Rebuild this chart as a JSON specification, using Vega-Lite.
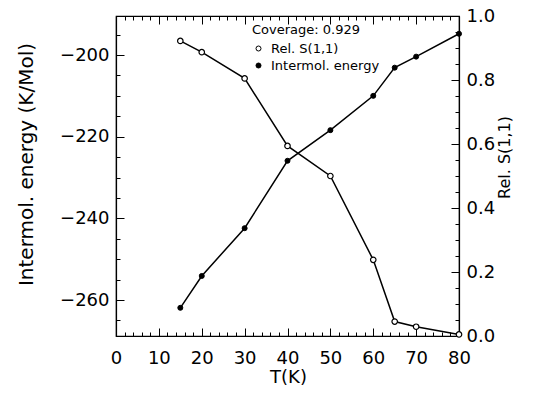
{
  "$schema": "https://vega.github.io/schema/vega-lite/v6.json",
  "width": 343,
  "height": 320,
  "autosize": "none",
  "padding": {"left": 116, "top": 16, "right": 79, "bottom": 66},
  "background": "white",
  "config": {
    "font": "DejaVu Sans",
    "view": {"stroke": "black", "strokeWidth": 1.2},
    "axis": {
      "grid": false,
      "domainColor": "black",
      "domainWidth": 1.2,
      "tickColor": "black",
      "tickWidth": 1,
      "labelColor": "black",
      "labelFont": "DejaVu Sans",
      "labelFontSize": 18,
      "titleColor": "black",
      "titleFont": "DejaVu Sans",
      "titleFontWeight": "normal"
    },
    "legend": {
      "orient": "none",
      "legendX": 136,
      "legendY": 8,
      "titleFontSize": 13,
      "titleFontWeight": "normal",
      "titleColor": "black",
      "titleFont": "DejaVu Sans",
      "titlePadding": 5,
      "labelFontSize": 13,
      "labelFont": "DejaVu Sans",
      "labelColor": "black",
      "labelOffset": 6,
      "rowPadding": 3,
      "padding": 0,
      "symbolType": "circle",
      "symbolSize": 25,
      "symbolStrokeColor": "black",
      "symbolStrokeWidth": 1
    }
  },
  "data": {
    "values": [
      {"T": 15, "S": 0.922, "E": -261.9},
      {"T": 20, "S": 0.887, "E": -254.1},
      {"T": 30, "S": 0.805, "E": -242.4},
      {"T": 40, "S": 0.594, "E": -225.9},
      {"T": 50, "S": 0.500, "E": -218.4},
      {"T": 60, "S": 0.238, "E": -210.0},
      {"T": 65, "S": 0.045, "E": -203.1},
      {"T": 70, "S": 0.029, "E": -200.4},
      {"T": 80, "S": 0.005, "E": -194.8}
    ]
  },
  "layer": [
    {
      "encoding": {
        "x": {
          "field": "T", "type": "quantitative",
          "scale": {"domain": [0, 80], "nice": false},
          "axis": {
            "orient": "bottom",
            "title": "T(K)",
            "titleFontSize": 18,
            "titleX": 172,
            "titleY": 41,
            "titleBaseline": "middle",
            "values": [0,2,4,6,8,10,12,14,16,18,20,22,24,26,28,30,32,34,36,38,40,42,44,46,48,50,52,54,56,58,60,62,64,66,68,70,72,74,76,78,80],
            "labelExpr": "datum.value % 10 === 0 ? datum.label : ''",
            "tickSize": {"condition": {"test": "datum.value % 10 === 0", "value": -8}, "value": -4},
            "labelPadding": 21,
            "labelFlush": false,
            "labelOverlap": false
          }
        },
        "y": {
          "field": "E", "type": "quantitative",
          "scale": {"domain": [-268.8, -190.45], "nice": false, "zero": false},
          "axis": {
            "orient": "left",
            "title": "Intermol. energy (K/Mol)",
            "titleFontSize": 20,
            "titleX": -90,
            "titleY": 148,
            "titleAngle": 270,
            "titleBaseline": "middle",
            "titleAlign": "center",
            "values": [-265,-260,-255,-250,-245,-240,-235,-230,-225,-220,-215,-210,-205,-200,-195],
            "labelExpr": "datum.value % 20 === 0 ? replace(datum.label, '-', '\u2212') : ''",
            "tickSize": {"condition": {"test": "datum.value % 20 === 0", "value": -8}, "value": -4},
            "labelPadding": 15,
            "labelFlush": false,
            "labelOverlap": false
          }
        }
      },
      "layer": [
        {"mark": {"type": "line", "color": "black", "strokeWidth": 1.5}},
        {
          "mark": {"type": "point", "shape": "circle", "filled": true, "stroke": "black", "strokeWidth": 1, "size": 25, "opacity": 1},
          "encoding": {
            "fill": {
              "datum": "Intermol. energy",
              "scale": {"domain": ["Rel. S(1,1)", "Intermol. energy"], "range": ["white", "black"]},
              "legend": {"title": "Coverage: 0.929"}
            }
          }
        }
      ]
    },
    {
      "encoding": {
        "x": {
          "field": "T", "type": "quantitative",
          "scale": {"domain": [0, 80], "nice": false},
          "axis": {
            "orient": "top",
            "title": null,
            "labels": false,
            "domain": true,
            "values": [0,2,4,6,8,10,12,14,16,18,20,22,24,26,28,30,32,34,36,38,40,42,44,46,48,50,52,54,56,58,60,62,64,66,68,70,72,74,76,78,80],
            "tickSize": {"condition": {"test": "datum.value % 10 === 0", "value": -8}, "value": -4}
          }
        },
        "y": {
          "field": "S", "type": "quantitative",
          "scale": {"domain": [0, 1], "nice": false},
          "axis": {
            "orient": "right",
            "title": "Rel. S(1,1)",
            "titleFontSize": 16,
            "titleX": 45,
            "titleY": 141,
            "titleAngle": 270,
            "titleBaseline": "middle",
            "titleAlign": "center",
            "values": [0,0.05,0.1,0.15,0.2,0.25,0.3,0.35,0.4,0.45,0.5,0.55,0.6,0.65,0.7,0.75,0.8,0.85,0.9,0.95,1],
            "labelExpr": "abs(datum.value*5 - round(datum.value*5)) < 0.001 ? format(datum.value, '.1f') : ''",
            "tickSize": {"condition": {"test": "abs(datum.value*5 - round(datum.value*5)) < 0.001", "value": -8}, "value": -4},
            "labelPadding": 15,
            "labelFlush": false,
            "labelOverlap": false
          }
        }
      },
      "layer": [
        {"mark": {"type": "line", "color": "black", "strokeWidth": 1.5}},
        {
          "mark": {"type": "point", "shape": "circle", "filled": true, "stroke": "black", "strokeWidth": 1.2, "size": 30, "opacity": 1},
          "encoding": {
            "fill": {"datum": "Rel. S(1,1)"}
          }
        }
      ]
    }
  ],
  "resolve": {
    "scale": {"y": "independent"},
    "axis": {"x": "independent", "y": "independent"}
  }
}
